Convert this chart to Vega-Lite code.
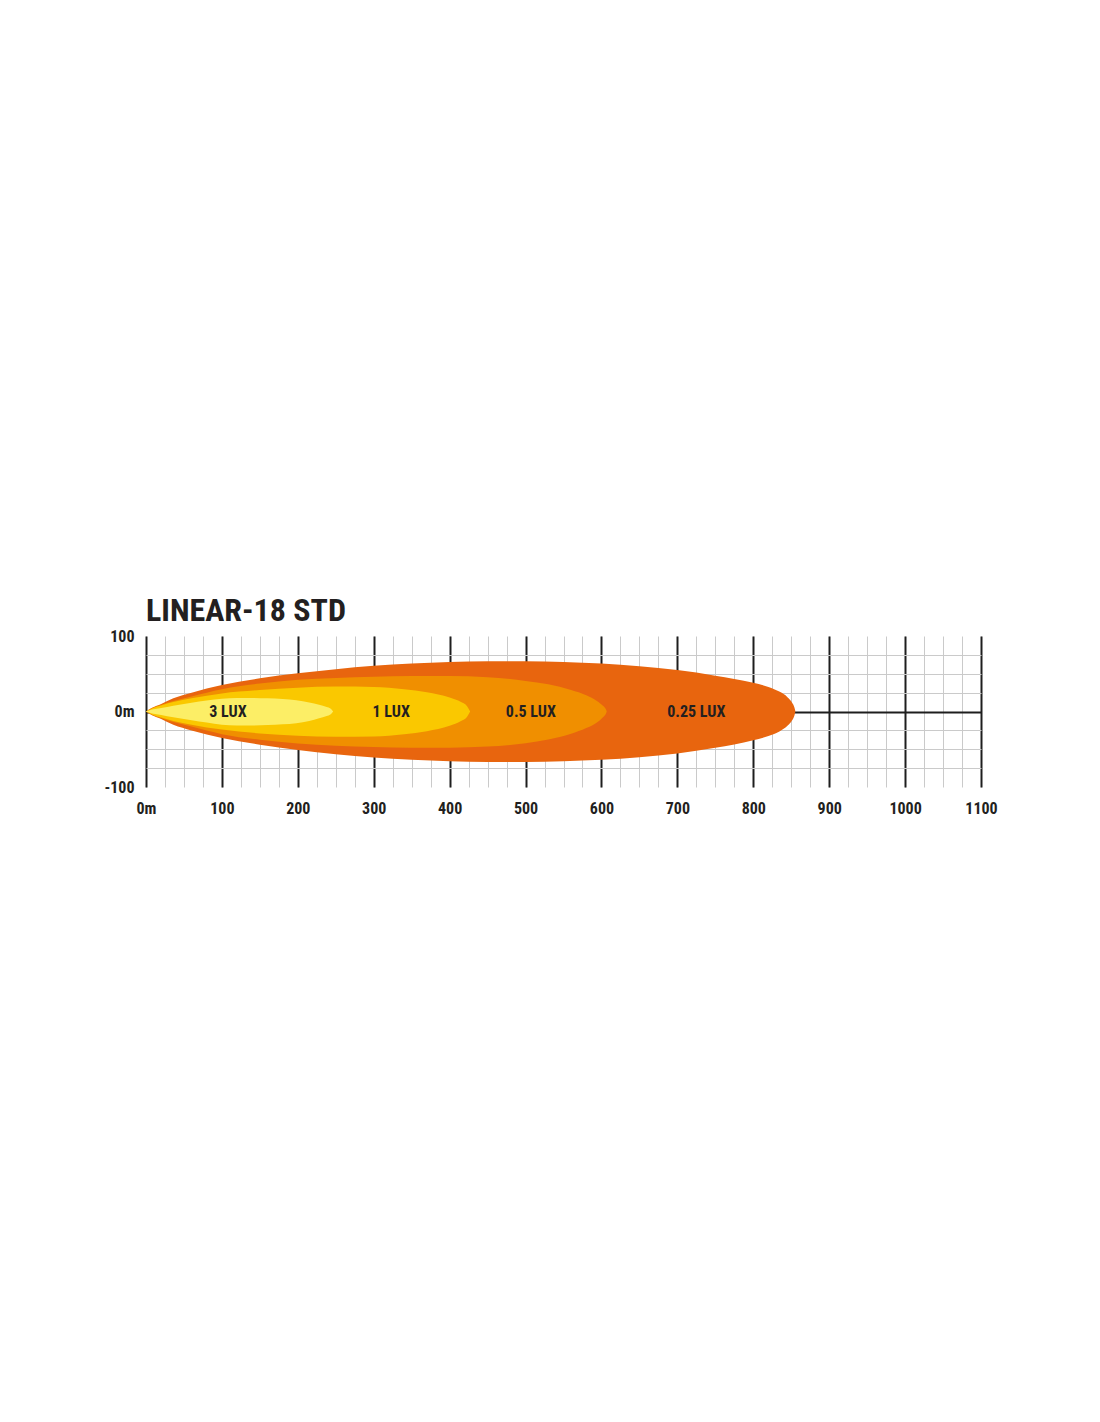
{
  "$schema": "https://vega.github.io/schema/vega-lite/v6.json",
  "autosize": "none",
  "padding": {"left": 146, "top": 636, "right": 119, "bottom": 635},
  "width": 835,
  "height": 151,
  "background": "white",
  "config": {"view": {"stroke": null}},
  "title": {
    "text": "LINEAR-18 STD",
    "anchor": "start",
    "frame": "group",
    "font": "Roboto Condensed, Liberation Sans Narrow, Roboto, sans-serif",
    "fontSize": 32,
    "fontWeight": "bold",
    "color": "#231f20",
    "offset": 0
  },
  "datasets": {
    "lux025": [
      {"x": 0, "top": 0, "bottom": 0},
      {"x": 8, "top": 5, "bottom": -5},
      {"x": 20, "top": 10, "bottom": -10},
      {"x": 36, "top": 17.5, "bottom": -17.5},
      {"x": 60, "top": 25, "bottom": -25},
      {"x": 100, "top": 35, "bottom": -35},
      {"x": 150, "top": 44, "bottom": -44},
      {"x": 200, "top": 50.5, "bottom": -51},
      {"x": 250, "top": 56, "bottom": -56.5},
      {"x": 300, "top": 60.5, "bottom": -61},
      {"x": 350, "top": 63.5, "bottom": -64},
      {"x": 400, "top": 65.5, "bottom": -66},
      {"x": 450, "top": 66.5, "bottom": -67},
      {"x": 500, "top": 66.5, "bottom": -67},
      {"x": 550, "top": 65.5, "bottom": -66},
      {"x": 600, "top": 63.5, "bottom": -64},
      {"x": 650, "top": 60, "bottom": -60.5},
      {"x": 700, "top": 55, "bottom": -55.5},
      {"x": 750, "top": 47.5, "bottom": -48},
      {"x": 800, "top": 38, "bottom": -38},
      {"x": 820, "top": 32.5, "bottom": -32.5},
      {"x": 835, "top": 26, "bottom": -26},
      {"x": 845, "top": 19, "bottom": -19},
      {"x": 851, "top": 12, "bottom": -12},
      {"x": 854, "top": 6, "bottom": -6},
      {"x": 855.5, "top": 0, "bottom": 0}
    ],
    "lux05": [
      {"x": 0, "top": 0, "bottom": 0},
      {"x": 8, "top": 4.5, "bottom": -4.5},
      {"x": 20, "top": 9, "bottom": -9},
      {"x": 36, "top": 14, "bottom": -14},
      {"x": 60, "top": 20, "bottom": -20},
      {"x": 100, "top": 29.5, "bottom": -30},
      {"x": 150, "top": 37, "bottom": -37.5},
      {"x": 200, "top": 42, "bottom": -42.5},
      {"x": 250, "top": 44.5, "bottom": -45.5},
      {"x": 300, "top": 46, "bottom": -47},
      {"x": 350, "top": 47, "bottom": -48},
      {"x": 400, "top": 47, "bottom": -48},
      {"x": 450, "top": 45.5, "bottom": -46.5},
      {"x": 500, "top": 40.5, "bottom": -42},
      {"x": 530, "top": 36, "bottom": -37},
      {"x": 560, "top": 28.5, "bottom": -29.5},
      {"x": 580, "top": 21.5, "bottom": -22},
      {"x": 594, "top": 14, "bottom": -14.5},
      {"x": 602, "top": 7.5, "bottom": -7.5},
      {"x": 605.5, "top": 3.5, "bottom": -3.5},
      {"x": 607, "top": 0, "bottom": 0}
    ],
    "lux1": [
      {"x": 0, "top": 0, "bottom": 0},
      {"x": 8, "top": 4, "bottom": -4},
      {"x": 20, "top": 8, "bottom": -8},
      {"x": 36, "top": 12.5, "bottom": -12.5},
      {"x": 60, "top": 17.5, "bottom": -17.5},
      {"x": 100, "top": 24, "bottom": -24},
      {"x": 150, "top": 28.5, "bottom": -29},
      {"x": 200, "top": 31.5, "bottom": -32},
      {"x": 250, "top": 33, "bottom": -33.5},
      {"x": 300, "top": 32.5, "bottom": -33},
      {"x": 340, "top": 29.5, "bottom": -30},
      {"x": 370, "top": 25.5, "bottom": -26},
      {"x": 400, "top": 18.5, "bottom": -19},
      {"x": 415, "top": 12.5, "bottom": -12.5},
      {"x": 423, "top": 7, "bottom": -7},
      {"x": 427, "top": 0, "bottom": 0}
    ],
    "lux3": [
      {"x": 0, "top": 0, "bottom": 0},
      {"x": 8, "top": 2.5, "bottom": -2.5},
      {"x": 20, "top": 4.5, "bottom": -4.5},
      {"x": 36, "top": 7.5, "bottom": -7.5},
      {"x": 60, "top": 11.5, "bottom": -11.5},
      {"x": 80, "top": 14.5, "bottom": -14.5},
      {"x": 100, "top": 17, "bottom": -17.5},
      {"x": 120, "top": 18, "bottom": -18.5},
      {"x": 140, "top": 18, "bottom": -18.5},
      {"x": 160, "top": 17.5, "bottom": -18},
      {"x": 180, "top": 16.5, "bottom": -17},
      {"x": 198, "top": 15, "bottom": -15.5},
      {"x": 215, "top": 12, "bottom": -12.5},
      {"x": 228, "top": 9, "bottom": -9},
      {"x": 238, "top": 6, "bottom": -6},
      {"x": 243, "top": 4, "bottom": -4},
      {"x": 246.5, "top": 0, "bottom": 0}
    ],
    "labels": [
      {"x": 108, "y": 0, "label": "3 LUX"},
      {"x": 323, "y": 0, "label": "1 LUX"},
      {"x": 507, "y": 0, "label": "0.5 LUX"},
      {"x": 725, "y": 0, "label": "0.25 LUX"}
    ]
  },
  "resolve": {"axis": {"x": "independent", "y": "independent"}},
  "layer": [
    {
      "data": {"name": "lux025"},
      "mark": {"type": "area", "interpolate": "monotone", "color": "#E8650E"},
      "encoding": {
        "x": {"field": "x", "type": "quantitative",
          "scale": {"domain": [0, 1100], "nice": false, "zero": false},
          "axis": {"orient": "bottom", "values": [0,25,50,75,100,125,150,175,200,225,250,275,300,325,350,375,400,425,450,475,500,525,550,575,600,625,650,675,700,725,750,775,800,825,850,875,900,925,950,975,1000,1025,1050,1075,1100],
            "grid": true, "gridColor": "#cacaca", "gridWidth": 1, "labels": false, "ticks": false, "domain": false, "title": null}},
        "y": {"field": "top", "type": "quantitative", "stack": null,
          "scale": {"domain": [-100, 100], "nice": false, "zero": false},
          "axis": {"orient": "left", "values": [-75,-50,-25,25,50,75],
            "grid": true, "gridColor": "#cacaca", "gridWidth": 1, "labels": false, "ticks": false, "domain": false, "title": null}},
        "y2": {"field": "bottom"}
      }
    },
    {
      "data": {"name": "lux05"},
      "mark": {"type": "area", "interpolate": "monotone", "color": "#F08F00"},
      "encoding": {
        "x": {"field": "x", "type": "quantitative",
          "axis": {"orient": "bottom", "values": [0,100,200,300,400,500,600,700,800,900,1000,1100],
            "grid": true, "gridColor": "#1e1e1e", "gridWidth": 2, "ticks": false, "domain": false, "title": null,
            "labelExpr": "datum.value === 0 ? '0m' : '' + datum.value",
            "labelFlush": false,
            "labelFont": "Roboto Condensed, Liberation Sans Narrow, Roboto, sans-serif",
            "labelFontSize": 16, "labelFontWeight": "bold", "labelColor": "#231f20", "labelPadding": 13}},
        "y": {"field": "top", "type": "quantitative", "stack": null,
          "axis": {"orient": "left", "values": [-100, 0, 100],
            "grid": true, "gridWidth": 2,
            "gridColor": {"condition": {"test": "datum.value === 0", "value": "#1e1e1e"}, "value": "transparent"},
            "ticks": false, "domain": false, "title": null,
            "labelExpr": "datum.value === 0 ? '0m' : '' + datum.value",
            "labelFlush": false,
            "labelFont": "Roboto Condensed, Liberation Sans Narrow, Roboto, sans-serif",
            "labelFontSize": 16, "labelFontWeight": "bold", "labelColor": "#231f20", "labelPadding": 12, "labelBaseline": "middle"}},
        "y2": {"field": "bottom"}
      }
    },
    {
      "data": {"name": "lux1"},
      "mark": {"type": "area", "interpolate": "monotone", "color": "#FAC800"},
      "encoding": {
        "x": {"field": "x", "type": "quantitative", "axis": null},
        "y": {"field": "top", "type": "quantitative", "stack": null, "axis": null},
        "y2": {"field": "bottom"}
      }
    },
    {
      "data": {"name": "lux3"},
      "mark": {"type": "area", "interpolate": "monotone", "color": "#FCEE66"},
      "encoding": {
        "x": {"field": "x", "type": "quantitative", "axis": null},
        "y": {"field": "top", "type": "quantitative", "stack": null, "axis": null},
        "y2": {"field": "bottom"}
      }
    },
    {
      "data": {"name": "labels"},
      "mark": {"type": "text", "font": "Roboto Condensed, Liberation Sans Narrow, Roboto, sans-serif", "fontSize": 16, "fontWeight": "bold", "color": "#231f20", "baseline": "middle", "align": "center"},
      "encoding": {
        "x": {"field": "x", "type": "quantitative", "axis": null},
        "y": {"field": "y", "type": "quantitative", "axis": null},
        "text": {"field": "label"}
      }
    }
  ]
}
